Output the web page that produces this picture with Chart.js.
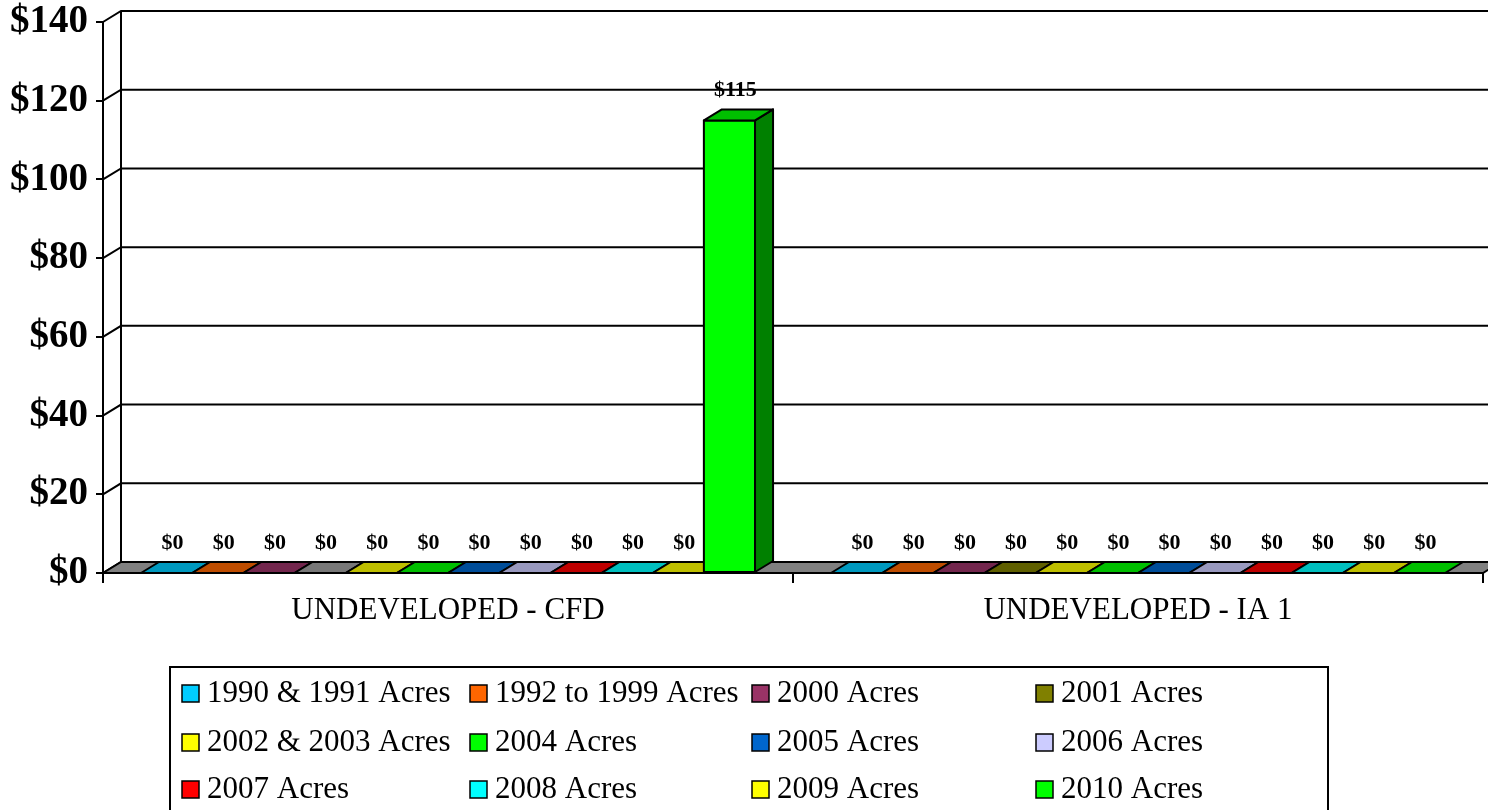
<!DOCTYPE html>
<html>
<head>
<meta charset="utf-8">
<script src="https://cdn.jsdelivr.net/npm/chart.js@4"></script>
<style>
  body { margin: 0; background: #fff; }
  canvas { display: block; }
</style>
</head>
<body>
<canvas id="myChart" width="1488" height="810"></canvas>
<script>
const categories = ['UNDEVELOPED - CFD', 'UNDEVELOPED - IA 1'];
const seriesNames = ['1990 & 1991 Acres', '1992 to 1999 Acres', '2000 Acres', '2001 Acres',
                     '2002 & 2003 Acres', '2004 Acres', '2005 Acres', '2006 Acres',
                     '2007 Acres', '2008 Acres', '2009 Acres', '2010 Acres'];
const cfdValues = [0, 0, 0, 0, 0, 0, 0, 0, 0, 0, 0, 115];
const ia1Values = [0, 0, 0, 0, 0, 0, 0, 0, 0, 0, 0, 0];
const seriesColors = ['#00CCFF', '#FF6600', '#993366', '#808000', '#FFFF00', '#00FF00',
                      '#0066CC', '#CCCCFF', '#FF0000', '#00FFFF', '#FFFF00', '#00FF00'];

const serif = "'Liberation Serif', 'Times New Roman', serif";
const dx = 18, dy = 11;   // depth of the 3d look

function shade(hex, f) {
    const n = parseInt(hex.slice(1), 16);
    const r = Math.round(((n >> 16) & 255) * f);
    const g = Math.round(((n >> 8) & 255) * f);
    const b = Math.round((n & 255) * f);
    return `rgb(${r},${g},${b})`;
}

// the 2001 CFD cell shows grey on the floor
function pointColor(ds, i) {
    if (ds === 3 && i === 0) return '#A0A0A0';
    return seriesColors[ds];
}

const box3d = {
    id: 'box3d',
    beforeDatasetsDraw(chart) {
        const { ctx, chartArea: a, scales: { y } } = chart;
        ctx.save();
        ctx.strokeStyle = '#000';
        ctx.lineWidth = 2;
        y.ticks.forEach(t => {
            const py = y.getPixelForValue(t.value);
            ctx.beginPath();
            ctx.moveTo(a.left, py);
            ctx.lineTo(a.left + dx, py - dy);
            ctx.lineTo(chart.width, py - dy);
            ctx.stroke();
        });
        ctx.beginPath();
        ctx.moveTo(a.left + dx, y.getPixelForValue(y.max) - dy);
        ctx.lineTo(a.left + dx, y.getPixelForValue(0) - dy);
        ctx.stroke();
        // floor
        const y0 = y.getPixelForValue(0);
        ctx.fillStyle = '#808080';
        ctx.beginPath();
        ctx.moveTo(a.left, y0);
        ctx.lineTo(a.right, y0);
        ctx.lineTo(a.right + dx, y0 - dy);
        ctx.lineTo(a.left + dx, y0 - dy);
        ctx.closePath();
        ctx.fill();
        ctx.stroke();

        // bars, left to right, each with front, side and top
        ctx.lineJoin = 'round';
        const n = chart.data.datasets.length;
        const labels = [];
        for (let i = 0; i < categories.length; i++) {
            for (let d = 0; d < n; d++) {
                const bar = chart.getDatasetMeta(d).data[i];
                const v = chart.data.datasets[d].data[i];
                const c = pointColor(d, i);
                const l = bar.x - bar.width / 2, r = bar.x + bar.width / 2;
                const top = bar.y, base = bar.base;
                if (base - top > 0.5) {
                    ctx.fillStyle = c;
                    ctx.fillRect(l, top, r - l, base - top);
                    ctx.strokeRect(l, top, r - l, base - top);
                    ctx.fillStyle = shade(c, 0.5);
                    ctx.beginPath();
                    ctx.moveTo(r, top); ctx.lineTo(r + dx, top - dy);
                    ctx.lineTo(r + dx, base - dy); ctx.lineTo(r, base);
                    ctx.closePath(); ctx.fill(); ctx.stroke();
                }
                ctx.fillStyle = shade(c, 0.75);
                ctx.beginPath();
                ctx.moveTo(l, top); ctx.lineTo(r, top);
                ctx.lineTo(r + dx, top - dy); ctx.lineTo(l + dx, top - dy);
                ctx.closePath(); ctx.fill(); ctx.stroke();
                labels.push({ x: bar.x + 6, y: top - dy - 19, text: '$' + v });
            }
        }
        ctx.fillStyle = '#000';
        ctx.font = `bold 22px ${serif}`;
        ctx.textAlign = 'center';
        ctx.textBaseline = 'middle';
        labels.forEach(p => ctx.fillText(p.text, p.x, p.y));
        ctx.restore();
        return false;
    },
    afterDraw(chart) {
        // legend box, four columns
        const ctx = chart.ctx;
        const cols = [182, 470, 752, 1036];
        const rows = [693, 742, 789];
        ctx.save();
        ctx.strokeStyle = '#000';
        ctx.lineWidth = 2;
        ctx.strokeRect(170, 667, 1158, 150);
        ctx.font = `31px ${serif}`;
        ctx.textBaseline = 'middle';
        ctx.textAlign = 'left';
        chart.data.datasets.forEach((ds, k) => {
            const x = cols[k % 4], yc = rows[Math.floor(k / 4)];
            ctx.fillStyle = seriesColors[k];
            ctx.fillRect(x, yc - 8, 17, 17);
            ctx.lineWidth = 1.5;
            ctx.strokeRect(x, yc - 8, 17, 17);
            ctx.fillStyle = '#000';
            ctx.fillText(ds.label, x + 25, yc + 1);
        });
        ctx.restore();
    }
};

const ctx = document.getElementById('myChart');

new Chart(ctx, {
    type: 'bar',
    data: {
        labels: categories,
        datasets: seriesNames.map((name, d) => ({
            label: name,
            data: [cfdValues[d], ia1Values[d]],
            backgroundColor: categories.map((c, i) => pointColor(d, i)),
            borderWidth: 0
        }))
    },
    options: {
        responsive: false,
        animation: false,
        layout: { padding: { top: 22, right: 5, left: 0, bottom: 0 } },
        datasets: { bar: { categoryPercentage: 0.89, barPercentage: 1 } },
        plugins: {
            legend: { display: false },
            tooltip: { enabled: false }
        },
        scales: {
            x: {
                grid: { drawOnChartArea: false, tickLength: 10, color: '#000', lineWidth: 2 },
                border: { color: '#000', width: 2 },
                ticks: { font: { family: serif, size: 31 }, color: '#000', padding: 9, maxRotation: 0 },
                afterFit(s) { s.height = 237; }
            },
            y: {
                min: 0,
                max: 140,
                ticks: {
                    stepSize: 20,
                    callback: v => '$' + v,
                    font: { family: serif, size: 39, weight: 'bold' },
                    color: '#000',
                    padding: 8
                },
                grid: { drawOnChartArea: false, tickLength: 7, color: '#000', lineWidth: 2 },
                border: { color: '#000', width: 2 },
                afterFit(s) { s.width = 103; s.paddingTop = 0; s.paddingBottom = 0; }
            }
        }
    },
    plugins: [box3d]
});
</script>
</body>
</html>
